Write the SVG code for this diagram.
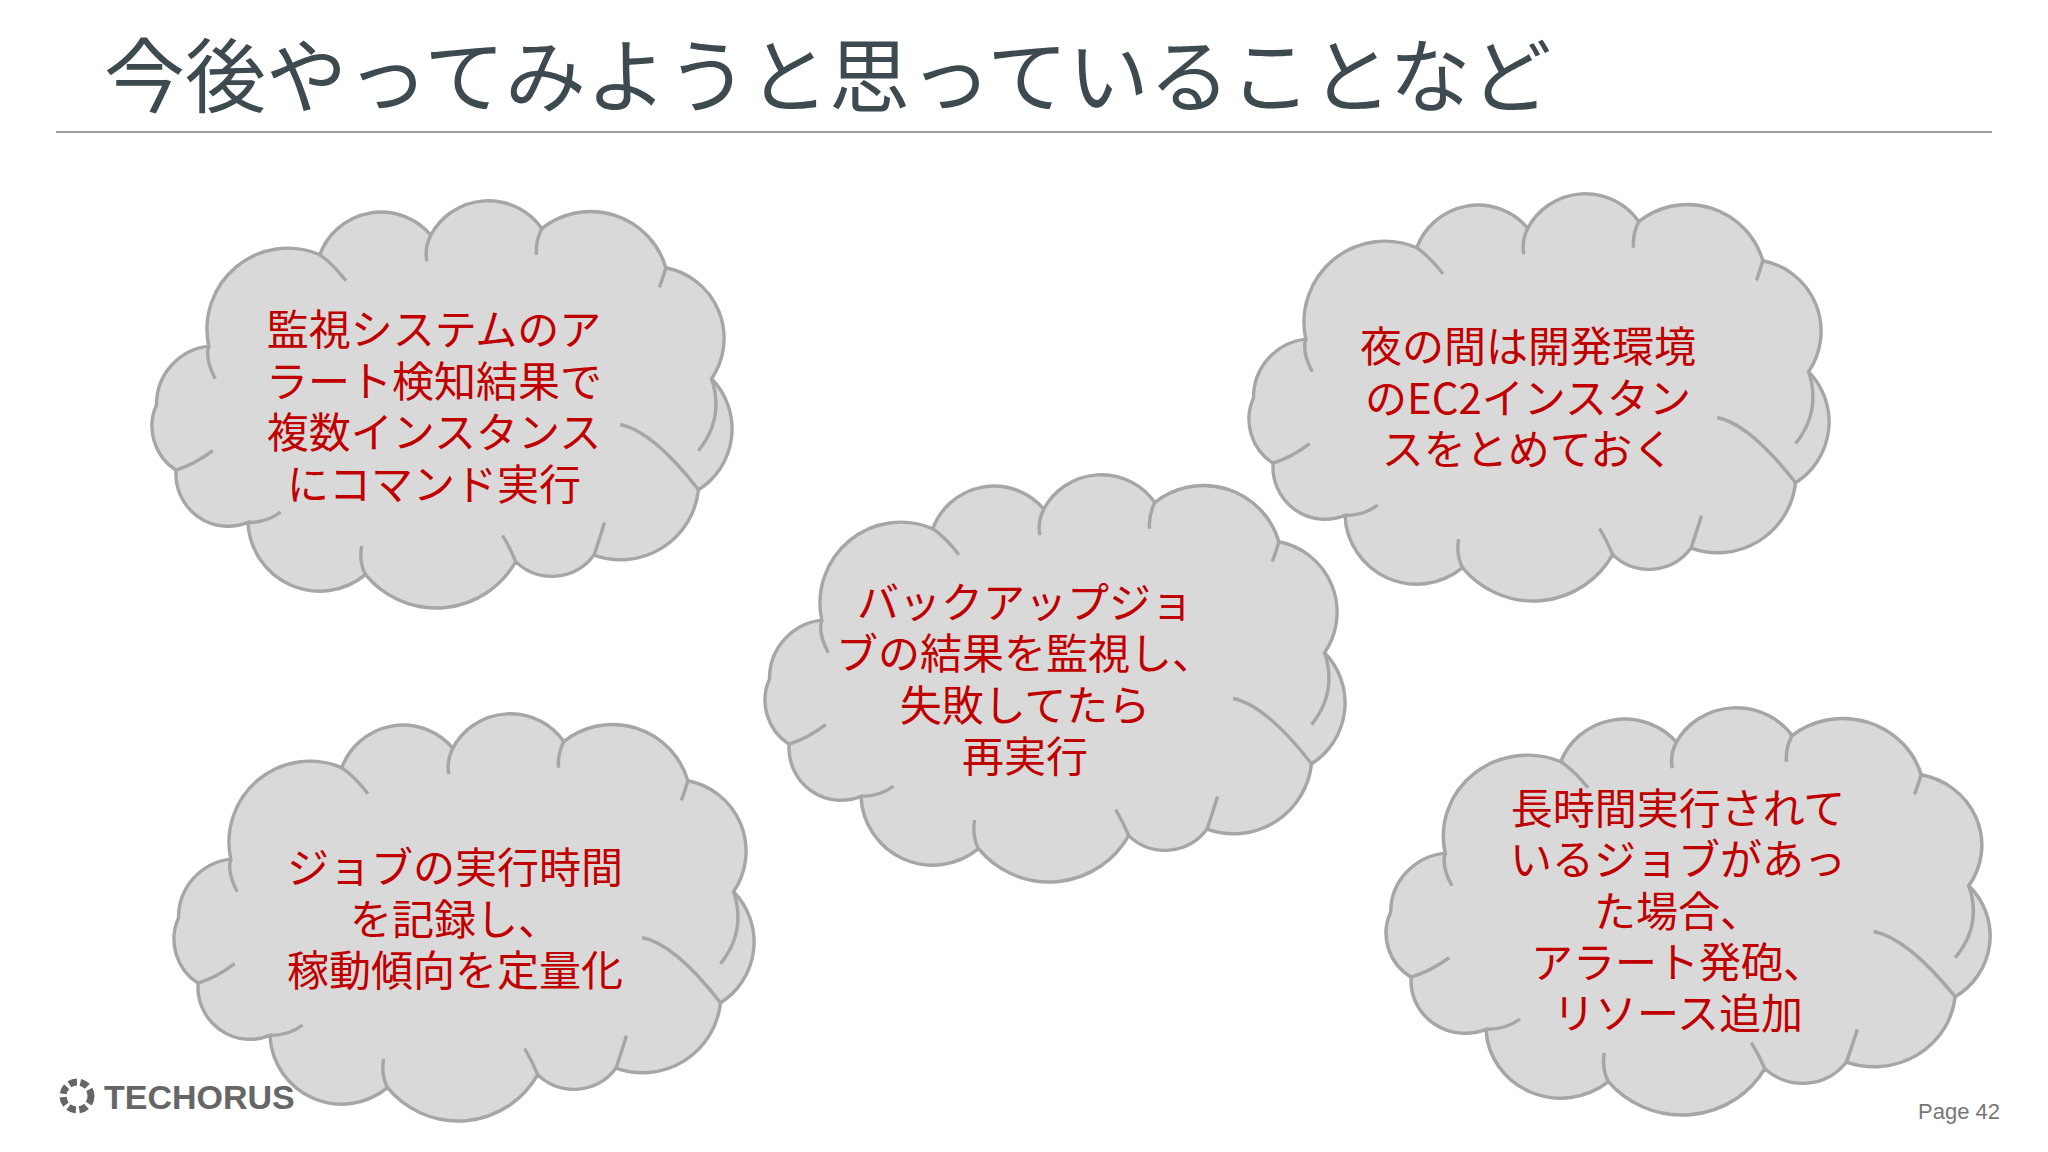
<svg xmlns="http://www.w3.org/2000/svg" xmlns:xlink="http://www.w3.org/1999/xlink" width="2048" height="1152" viewBox="0 0 2048 1152">
<style>
.cl{fill:#d9d9d9;stroke:#a6a6a6;stroke-width:2.6}
.in{fill:none;stroke:#a6a6a6;stroke-width:2.6}
.t{font-family:"Noto Sans CJK JP","Noto Sans",sans-serif;font-size:42px;fill:#c00000;text-anchor:middle}
</style>
<defs>
<g id="cloud">
<path class="cl" d="M45,105 A62,62 0 0 1 130,35 A50,50 0 0 1 215,20 A50,50 0 0 1 300,15 A60,60 0 0 1 395,45 A55,55 0 0 1 430,130 A55,55 0 0 1 420,215 A60,60 0 0 1 340,265 A40,40 0 0 1 280,270 A70,70 0 0 1 165,280 A55,55 0 0 1 75,240 A40,40 0 0 1 20,200 A40,40 0 0 1 5,150 A45,45 0 0 1 45,105 Z"/>
<path class="in" d="M45,105 Q42,115 50,130 M130,35 Q140,42 150,55 M215,20 Q210,30 212,40 M300,15 Q295,25 296,35 M395,45 Q392,55 390,60 M430,130 Q440,160 420,185 M420,215 Q385,170 360,165 M340,265 Q345,250 348,240 M280,270 Q276,260 270,250 M165,280 Q160,270 162,258 M75,240 Q90,240 100,232 M20,200 Q35,195 48,185"/>
</g>
</defs>
<g id="title">
<text x="104" y="106" font-family="Noto Sans CJK JP,sans-serif" font-size="81" fill="#3d4a4f">今後やってみようと思っていることなど</text>
<line x1="56" y1="132" x2="1992" y2="132" stroke="#a0a0a0" stroke-width="2"/>
</g>
<g id="n1"><use xlink:href="#cloud" transform="translate(150,209) scale(1.306)"/>
<text class="t"><tspan x="434" y="345">監視システムのア</tspan><tspan x="434" y="397">ラート検知結果で</tspan><tspan x="434" y="448">複数インスタンス</tspan><tspan x="434" y="500">にコマンド実行</tspan></text></g>
<g id="n2"><use xlink:href="#cloud" transform="translate(1247,202) scale(1.306)"/>
<text class="t"><tspan x="1528" y="362">夜の間は開発環境</tspan><tspan x="1528" y="414">のEC2インスタン</tspan><tspan x="1528" y="465">スをとめておく</tspan></text></g>
<g id="n3"><use xlink:href="#cloud" transform="translate(763,483) scale(1.306)"/>
<text class="t"><tspan x="1025" y="618">バックアップジョ</tspan><tspan x="1025" y="669">ブの結果を監視し、</tspan><tspan x="1025" y="721">失敗してたら</tspan><tspan x="1025" y="772">再実行</tspan></text></g>
<g id="n4"><use xlink:href="#cloud" transform="translate(172,722) scale(1.306)"/>
<text class="t"><tspan x="455" y="883">ジョブの実行時間</tspan><tspan x="455" y="935">を記録し、</tspan><tspan x="455" y="986">稼動傾向を定量化</tspan></text></g>
<g id="n5"><use xlink:href="#cloud" transform="translate(1384,716) scale(1.36,1.306)"/>
<text class="t"><tspan x="1678" y="824">長時間実行されて</tspan><tspan x="1678" y="875">いるジョブがあっ</tspan><tspan x="1678" y="927">た場合、</tspan><tspan x="1678" y="978">アラート発砲、</tspan><tspan x="1678" y="1029">リソース追加</tspan></text></g>
<g id="footer">
<circle cx="77" cy="1096" r="14" fill="none" stroke="#666" stroke-width="7" stroke-dasharray="8 3.5"/>
<text x="104" y="1109" font-family="Liberation Sans,sans-serif" font-weight="bold" font-size="34" fill="#666">TECHORUS</text>
<text x="2000" y="1119" font-family="Liberation Sans,sans-serif" font-size="22" fill="#777" text-anchor="end">Page 42</text>
</g>
</svg>
